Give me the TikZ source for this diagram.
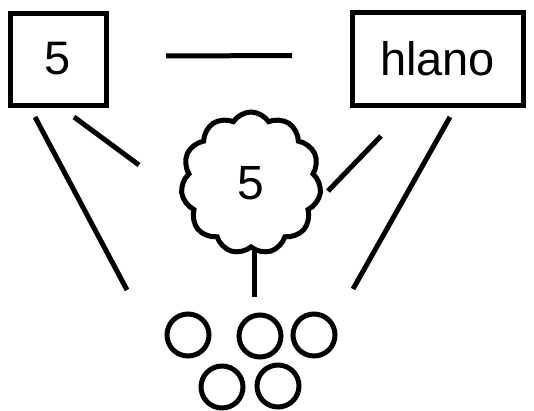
\documentclass[tikz,border=0pt]{standalone}
\usepackage{fontspec}
\setmainfont{Liberation Sans}
\usepackage{tikz}
\usetikzlibrary{shapes.symbols,positioning}

\begin{document}
\begin{tikzpicture}[x=1pt,y=-1pt,line width=5pt,
  kasten/.style={draw,rectangle,inner sep=0pt,font=\fontsize{47}{56}\selectfont},
  kreis/.style={draw,circle,minimum size=42pt,inner sep=0pt},
  wolke/.style={draw,cloud,cloud puffs=11,cloud puff arc=115,aspect=1,inner sep=0pt,
    minimum width=140pt,minimum height=142pt,font=\fontsize{48}{56}\selectfont}]
%Rahmen in Pixeln, y zeigt nach unten
\useasboundingbox (0,0) rectangle (534,410);
  \pgfmathsetmacro{\abstand}{57.5}
%Kaesten oben
\node[kasten,minimum width=96pt,minimum height=92pt] (fuenf) at (58,59) {5};
\node[kasten,minimum width=171pt,minimum height=93pt] (hlano) at (437.5,58.5) {hlano};
\node[wolke] (wolke) at (251,183) {5};
%Kreise unten
\foreach \n/\x/\y in {1/188/335,2/260/336,3/314/335,4/222/387,5/278/386}{
\node[kreis] (kreis\n) at (\x,\y) {};
}
%Enden der Striche
\coordinate (la) at (35,117);  \coordinate (lb) at (127,290);
\coordinate (lc) at (74,117);  \coordinate (ld) at (139,165);
\coordinate (ra) at (450,117); \coordinate (rb) at (353,289);
\coordinate (rc) at (381,136); \coordinate (rd) at (328,191);
\coordinate (stiel) at (254,297);
\draw[shorten <=\abstand pt,shorten >=\abstand pt] ([yshift=3pt]fuenf.east) -- ([yshift=3pt]hlano.west);
\draw (la) -- (lb);
\draw (lc) -- (ld);
\draw (ra) -- (rb);
\draw (rc) -- (rd);
\draw (wolke.south -| stiel) -- (stiel);
\end{tikzpicture}
\end{document}
